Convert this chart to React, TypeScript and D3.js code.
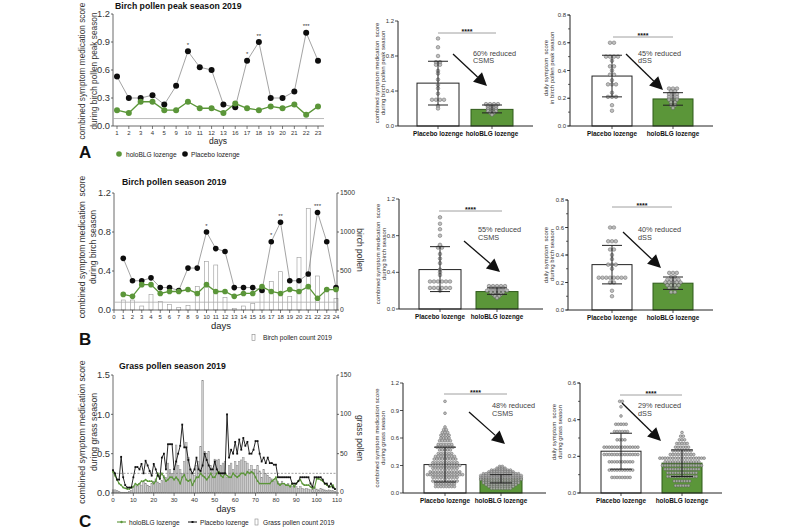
import React from 'react';
import * as d3 from 'd3';

const FONT = "'Liberation Sans', Arial, Helvetica, sans-serif";
const GREEN = '#5b9639';
const GREEN_DARK = '#2f5a1a';
const INK = '#222';
const GROUPS = ['Placebo lozenge', 'holoBLG lozenge'];

// ---------- Panel A: birch pollen peak season ----------
const daysA = ['1','2','3','4','5','9','10','11','12','13','16','17','18','19','20','21','22','23'];
const placeboA = [0.53,0.30,0.30,0.33,0.23,0.43,0.80,0.63,0.60,0.23,0.20,0.70,0.90,0.30,0.30,0.37,1.00,0.70];
const holoA = [0.17,0.14,0.26,0.26,0.17,0.17,0.26,0.19,0.19,0.14,0.24,0.19,0.17,0.21,0.19,0.23,0.12,0.21];
const starsA: Record<string,string> = { '10': '*', '17': '*', '18': '**', '22': '***' };

// ---------- Panel B: birch pollen season ----------
const daysB = [1,2,3,4,5,6,7,8,9,10,11,12,13,14,15,16,17,18,19,20,21,22,23,24];
const placeboB = [0.53,0.30,0.30,0.33,0.23,0.23,0.20,0.43,0.43,0.80,0.63,0.60,0.23,0.23,0.23,0.20,0.70,0.90,0.30,0.30,0.37,1.00,0.70,0.23];
const holoB = [0.16,0.14,0.26,0.26,0.17,0.19,0.19,0.21,0.17,0.26,0.19,0.19,0.14,0.17,0.17,0.24,0.19,0.17,0.21,0.19,0.24,0.12,0.21,0.21];
const birchB = [128,128,51,201,107,73,30,56,299,620,577,162,20,51,85,295,363,491,171,671,1303,436,278,150];
const starsB: Record<number,string> = { 10: '*', 17: '*', 18: '**', 22: '***' };

// ---------- Panel C: grass pollen season (days 0..109) ----------
const placeboC = [
  0.29,0.25,0.17,0.17,0.46,0.20,0.10,0.07,0.07,0.07,
  0.20,0.33,0.33,0.30,0.37,0.25,0.41,0.35,0.28,0.22,
  0.37,0.30,0.22,0.18,0.45,0.50,0.30,0.62,0.62,0.62,
  0.30,0.40,0.50,0.60,0.87,0.58,0.58,0.42,0.30,0.25,
  0.30,0.45,0.30,0.28,0.35,0.50,0.42,0.35,0.30,0.30,
  0.40,0.30,0.25,0.25,0.25,0.25,1.00,0.45,0.55,0.50,
  0.65,0.50,0.68,0.55,0.70,0.60,0.65,0.50,0.50,0.55,
  0.66,0.66,0.50,0.40,0.45,0.38,0.45,0.38,0.38,0.36,
  0.36,0.20,0.20,0.20,0.20,0.20,0.20,0.20,0.12,0.12,
  0.12,0.15,0.20,0.20,0.20,0.20,0.20,0.12,0.08,0.20,
  0.20,0.20,0.20,0.17,0.12,0.12,0.08,0.12,0.07,0.05
];
const holoC = [
  0.27,0.22,0.17,0.12,0.10,0.07,0.06,0.05,0.05,0.07,
  0.08,0.12,0.10,0.12,0.15,0.15,0.17,0.15,0.15,0.15,
  0.12,0.15,0.25,0.20,0.25,0.20,0.15,0.17,0.20,0.20,
  0.17,0.20,0.17,0.12,0.20,0.23,0.17,0.15,0.17,0.10,
  0.15,0.20,0.20,0.25,0.22,0.20,0.17,0.20,0.25,0.20,
  0.20,0.25,0.27,0.22,0.20,0.25,0.22,0.20,0.20,0.25,
  0.22,0.20,0.22,0.25,0.25,0.23,0.27,0.25,0.27,0.25,
  0.20,0.15,0.12,0.12,0.12,0.12,0.12,0.12,0.15,0.17,
  0.20,0.12,0.10,0.12,0.12,0.10,0.10,0.08,0.12,0.08,
  0.12,0.15,0.17,0.12,0.10,0.10,0.10,0.08,0.06,0.07,
  0.18,0.18,0.17,0.15,0.12,0.10,0.08,0.08,0.10,0.05
];
const grassC = [
  4,4,3,2,1,1,1,1,2,3,
  8,10,8,12,10,14,12,10,8,12,
  15,18,14,12,16,22,20,38,30,25,
  28,61,35,30,25,40,64,45,30,25,
  22,35,40,59,143,53,50,53,35,30,
  43,42,43,35,38,40,20,35,38,30,
  40,35,40,42,45,40,38,30,35,30,
  30,35,28,20,30,25,22,20,18,15,
  18,15,12,15,12,10,12,10,8,10,
  8,6,8,6,5,6,5,4,5,6,
  5,4,6,5,4,3,4,3,3,2
];

// ---------- Dot plots: [value, count] rows ----------
const aCsmsMean = [0.49, 0.19];
const aCsmsErr = [[0.24, 0.74], [0.15, 0.24]];
const aCsmsPlacebo = [[1.0,1],[0.9,1],[0.8,1],[0.73,2],[0.7,2],[0.63,1],[0.6,1],[0.53,1],[0.47,1],[0.43,1],[0.37,1],[0.3,4],[0.23,1],[0.2,1]];
const aCsmsHolo = [[0.25,4],[0.23,3],[0.21,3],[0.19,3],[0.17,3],[0.15,2],[0.13,1]];

const aDssMean = [0.36, 0.195];
const aDssErr = [[0.21, 0.51], [0.15, 0.24]];
const aDssPlacebo = [[0.6,2],[0.5,4],[0.47,1],[0.43,2],[0.4,1],[0.37,2],[0.33,1],[0.3,3],[0.24,1],[0.21,3],[0.15,1],[0.11,1]];
const aDssHolo = [[0.27,3],[0.25,2],[0.23,3],[0.21,3],[0.19,3],[0.17,2],[0.15,2],[0.13,1]];

const bCsmsMean = [0.43, 0.19];
const bCsmsErr = [[0.19, 0.68], [0.16, 0.23]];
const bCsmsPlacebo = [[1.0,1],[0.93,1],[0.87,1],[0.8,1],[0.7,1],[0.67,2],[0.6,1],[0.55,1],[0.5,1],[0.43,1],[0.4,1],[0.37,1],[0.3,6],[0.23,6],[0.2,1]];
const bCsmsHolo = [[0.25,5],[0.23,4],[0.2,6],[0.18,4],[0.16,3],[0.14,2],[0.12,1]];

const bDssMean = [0.33, 0.195];
const bDssErr = [[0.19, 0.47], [0.15, 0.24]];
const bDssPlacebo = [[0.6,2],[0.5,3],[0.44,2],[0.4,1],[0.37,1],[0.33,3],[0.3,1],[0.235,8],[0.2,2],[0.14,1],[0.1,1]];
const bDssHolo = [[0.27,3],[0.24,2],[0.22,4],[0.2,5],[0.18,4],[0.16,3],[0.13,2]];

const cCsmsMean = [0.31, 0.16];
const cCsmsErr = [[0.12, 0.5], [0.11, 0.2]];
const cCsmsPlacebo = [[1.0,1],[0.87,1],[0.72,1],[0.69,2],[0.66,3],[0.63,4],[0.6,4],[0.57,5],[0.53,6],[0.5,7],[0.47,5],[0.43,6],[0.4,8],[0.37,9],[0.33,10],[0.3,12],[0.27,10],[0.23,12],[0.2,14],[0.17,10],[0.13,10],[0.1,8],[0.07,8]];
const cCsmsHolo = [[0.29,2],[0.27,4],[0.25,8],[0.23,10],[0.21,14],[0.19,16],[0.17,16],[0.15,16],[0.13,14],[0.11,14],[0.09,12],[0.07,10],[0.05,8]];

const cDssMean = [0.228, 0.163];
const cDssErr = [[0.13, 0.326], [0.09, 0.235]];
const cDssPlacebo = [[0.5,2],[0.47,1],[0.42,1],[0.375,5],[0.335,6],[0.29,4],[0.25,14],[0.21,14],[0.17,10],[0.125,10],[0.085,8]];
const cDssHolo = [[0.33,1],[0.31,2],[0.29,3],[0.27,5],[0.25,6],[0.23,8],[0.21,10],[0.19,18],[0.17,14],[0.15,16],[0.13,14],[0.11,12],[0.09,12],[0.065,7],[0.04,6]];

// ---------- helpers ----------
function Arrow({ x1, y1, x2, y2, head = 13, half = 6.5 }: any) {
  const dx = x2 - x1, dy = y2 - y1, L = Math.hypot(dx, dy);
  const ux = dx / L, uy = dy / L;
  const bx = x2 - ux * head, by = y2 - uy * head;
  const px = -uy * half, py = ux * half;
  return (
    <g>
      <line x1={x1} y1={y1} x2={bx} y2={by} stroke="#111" strokeWidth={1.3} />
      <polygon points={`${x2},${y2} ${bx + px},${by + py} ${bx - px},${by - py}`} fill="#111" />
    </g>
  );
}

function RotLabel({ x, y, lines, size, gap, rot = -90, color = '#333' }: any) {
  return (
    <g>
      {lines.map((l: string, i: number) => (
        <text key={i} transform={`translate(${x + i * gap},${y}) rotate(${rot})`} textAnchor="middle"
          fontSize={size} fill={color} style={{ whiteSpace: 'pre' }}>{l}</text>
      ))}
    </g>
  );
}

function DotPlot(p: any) {
  const y = d3.scaleLinear([0, p.max], [p.y0, p.yTop]);
  const x = d3.scalePoint(GROUPS, p.centers);
  const dotRows = [p.placebo, p.holo];
  const majors = d3.range(0, p.max + 1e-9, p.major);
  const minors = p.minor ? d3.range(0, p.max + 1e-9, p.minor) : [];
  return (
    <g>
      {GROUPS.map((g, i) => (
        <rect key={g} x={x(g)! - p.barW / 2} y={y(p.mean[i])} width={p.barW} height={p.y0 - y(p.mean[i])}
          fill={i === 0 ? '#fff' : GREEN} stroke={i === 0 ? INK : GREEN_DARK} strokeWidth={1} />
      ))}
      {GROUPS.map((g, gi) => dotRows[gi].map(([v, n]: number[], ri: number) =>
        d3.range(n).map(k => (
          <circle key={`${gi}-${ri}-${k}`} cx={x(g)! + (k - (n - 1) / 2) * p.sp} cy={y(v)} r={p.r}
            fill="#b4b4b4" fillOpacity={0.85} stroke="#555" strokeWidth={0.45} />
        ))
      ))}
      {GROUPS.map((g, i) => {
        const cx = x(g)!;
        const [lo, hi] = p.err[i];
        return (
          <g key={g} stroke={INK} strokeWidth={1}>
            <line x1={cx} x2={cx} y1={y(lo)} y2={y(hi)} />
            <line x1={cx - p.capW / 2} x2={cx + p.capW / 2} y1={y(lo)} y2={y(lo)} />
            <line x1={cx - p.capW / 2} x2={cx + p.capW / 2} y1={y(hi)} y2={y(hi)} />
          </g>
        );
      })}
      <line x1={p.ax} x2={p.ax} y1={p.y0} y2={p.yTop} stroke={INK} strokeWidth={1} />
      <line x1={p.ax} x2={p.xEnd} y1={p.y0} y2={p.y0} stroke={INK} strokeWidth={1} />
      {minors.map(t => <line key={'m' + t} x1={p.ax - 2} x2={p.ax} y1={y(t)} y2={y(t)} stroke={INK} strokeWidth={0.7} />)}
      {majors.map(t => (
        <g key={t}>
          <line x1={p.ax - 3} x2={p.ax} y1={y(t)} y2={y(t)} stroke={INK} strokeWidth={0.8} />
          <text x={p.ax - 4} y={y(t)} dy="0.35em" textAnchor="end" fontSize={6} fill="#333">{t.toFixed(1)}</text>
        </g>
      ))}
      {GROUPS.map(g => (
        <g key={g}>
          <line x1={x(g)} x2={x(g)} y1={p.y0} y2={p.y0 + 3} stroke={INK} strokeWidth={0.8} />
          <text x={x(g)} y={p.y0 + 9.5} textAnchor="middle" fontSize={6.4} fontWeight="bold" fill="#111">{g}</text>
        </g>
      ))}
      <line x1={p.sig[0]} x2={p.sig[1]} y1={p.sig[2]} y2={p.sig[2]} stroke="#888" strokeWidth={0.8} />
      <text x={(p.sig[0] + p.sig[1]) / 2} y={p.sig[2] + 1} textAnchor="middle" fontSize={7} fontWeight="bold" fill="#111">****</text>
      {p.note.map((l: string, i: number) => (
        <text key={i} x={p.noteX} y={p.noteY + i * 7.8} fontSize={7.3} fill="#444">{l}</text>
      ))}
      <Arrow x1={p.arrow[0]} y1={p.arrow[1]} x2={p.arrow[2]} y2={p.arrow[3]} />
      <RotLabel x={p.labX} y={p.labY} lines={p.lab} size={6} gap={5.6} />
    </g>
  );
}

function PanelA() {
  const x = d3.scalePoint(daysA, [117, 318]);
  const y = d3.scaleLinear([0, 1.2], [126, 14]);
  const line = d3.line<number>().x((_, i) => x(daysA[i])!).y(d => y(d));
  return (
    <g>
      <text x={115} y={9} fontSize={8.7} fontWeight="bold" fill="#111">Birch pollen peak season 2019</text>
      <line x1={113} x2={113} y1={y(0)} y2={y(1.2)} stroke="#444" strokeWidth={0.8} />
      {[0, 0.3, 0.6, 0.9, 1.2].map(t => (
        <g key={t}>
          <line x1={111} x2={113} y1={y(t)} y2={y(t)} stroke="#444" strokeWidth={0.8} />
          <text x={110} y={y(t)} dy="0.35em" textAnchor="end" fontSize={9.3} fill="#333">{t.toFixed(1)}</text>
        </g>
      ))}
      <line x1={113} x2={324} y1={y(0)} y2={y(0)} stroke="#444" strokeWidth={0.8} />
      {daysA.map(d => (
        <g key={d}>
          <line x1={x(d)} x2={x(d)} y1={y(0)} y2={y(0) + 3} stroke="#444" strokeWidth={0.7} />
          <text x={x(d)} y={135} fontSize={6} textAnchor="middle" fill="#333">{d}</text>
        </g>
      ))}
      <line x1={113} x2={324} y1={y(0.08)} y2={y(0.08)} stroke="#aaa" strokeWidth={0.8} />
      <path d={line(placeboA)!} fill="none" stroke="#8c8c8c" strokeWidth={0.8} />
      <path d={line(holoA)!} fill="none" stroke={GREEN} strokeWidth={1.3} />
      {placeboA.map((v, i) => <circle key={'p' + i} cx={x(daysA[i])} cy={y(v)} r={3} fill="#0d0d0d" />)}
      {holoA.map((v, i) => <circle key={'h' + i} cx={x(daysA[i])} cy={y(v)} r={3} fill={GREEN} />)}
      {daysA.map((d, i) => starsA[d] ? (
        <text key={'s' + d} x={x(d)} y={y(placeboA[i]) - 4.5} fontSize={6} textAnchor="middle" fill="#333">{starsA[d]}</text>
      ) : null)}
      <text x={218} y={144} fontSize={8.5} textAnchor="middle" fill="#222">days</text>
      <RotLabel x={85} y={71} lines={['combined symptom medication score', 'during birch pollen peak season']} size={8.3} gap={12} />
      <text x={79} y={158} fontSize={17} fontWeight="bold" fill="#111">A</text>
      <circle cx={119} cy={154} r={2.8} fill={GREEN} />
      <text x={126} y={156.5} fontSize={6.6} fill="#222">holoBLG lozenge</text>
      <circle cx={185} cy={154} r={2.8} fill="#0d0d0d" />
      <text x={191} y={156.5} fontSize={6.6} fill="#222">Placebo lozenge</text>
    </g>
  );
}

function PanelB() {
  const x = d3.scaleLinear([0, 24], [114, 336]);
  const y = d3.scaleLinear([0, 1.2], [310, 193]);
  const y2 = d3.scaleLinear([0, 1500], [310, 193]);
  const line = d3.line<number>().x((_, i) => x(daysB[i])).y(d => y(d));
  return (
    <g>
      <text x={122} y={185} fontSize={8.7} fontWeight="bold" fill="#111">Birch pollen season 2019</text>
      {birchB.map((v, i) => (
        <rect key={'b' + i} x={x(daysB[i]) - 2} y={y2(v)} width={4} height={y2(0) - y2(v)} fill="#fff" stroke="#9a9a9a" strokeWidth={0.6} />
      ))}
      <line x1={114} x2={114} y1={y(0)} y2={y(1.2)} stroke="#444" strokeWidth={0.8} />
      {[0, 0.4, 0.8, 1.2].map(t => (
        <g key={t}>
          <line x1={112} x2={114} y1={y(t)} y2={y(t)} stroke="#444" strokeWidth={0.8} />
          <text x={111} y={y(t)} dy="0.35em" textAnchor="end" fontSize={9.3} fill="#333">{t.toFixed(1)}</text>
        </g>
      ))}
      <line x1={337} x2={337} y1={y2(0)} y2={y2(1500)} stroke="#444" strokeWidth={0.8} />
      {[0, 500, 1000, 1500].map(t => (
        <g key={t}>
          <line x1={337} x2={339} y1={y2(t)} y2={y2(t)} stroke="#444" strokeWidth={0.8} />
          <text x={340} y={y2(t)} dy="0.3em" fontSize={6.8} fill="#333">{t}</text>
        </g>
      ))}
      <line x1={114} x2={337} y1={y(0)} y2={y(0)} stroke="#444" strokeWidth={0.8} />
      {[0, ...daysB].map(d => (
        <g key={d}>
          <line x1={x(d)} x2={x(d)} y1={y(0)} y2={y(0) + 3} stroke="#444" strokeWidth={0.7} />
          <text x={x(d)} y={318.5} fontSize={6} textAnchor="middle" fill="#333">{d}</text>
        </g>
      ))}
      <line x1={114} x2={337} y1={y2(100)} y2={y2(100)} stroke="#aaa" strokeWidth={0.8} />
      <path d={line(placeboB)!} fill="none" stroke="#8c8c8c" strokeWidth={0.8} />
      <path d={line(holoB)!} fill="none" stroke={GREEN} strokeWidth={1.3} />
      {placeboB.map((v, i) => <circle key={'p' + i} cx={x(daysB[i])} cy={y(v)} r={2.8} fill="#0d0d0d" />)}
      {holoB.map((v, i) => <circle key={'h' + i} cx={x(daysB[i])} cy={y(v)} r={2.8} fill={GREEN} />)}
      {daysB.map((d, i) => starsB[d] ? (
        <text key={'s' + d} x={x(d)} y={y(placeboB[i]) - 4.5} fontSize={6} textAnchor="middle" fill="#333">{starsB[d]}</text>
      ) : null)}
      <text x={221} y={329} fontSize={9.5} textAnchor="middle" fill="#222">days</text>
      <RotLabel x={85} y={247} lines={['combined symptom medication  score', 'during birch season']} size={8.5} gap={11} />
      <RotLabel x={357} y={250} lines={['birch pollen']} size={8.5} gap={0} rot={90} />
      <text x={79} y={345} fontSize={17} fontWeight="bold" fill="#111">B</text>
      <rect x={252} y={334.5} width={3} height={6} fill="#fff" stroke="#888" strokeWidth={0.6} />
      <text x={263} y={340} fontSize={6.6} fill="#222">Birch pollen count 2019</text>
    </g>
  );
}

function PanelC() {
  const x = d3.scaleLinear([0, 110], [113, 337]);
  const y = d3.scaleLinear([0, 1.5], [493, 375]);
  const y2 = d3.scaleLinear([0, 150], [493, 375]);
  const line = d3.line<number>().x((_, i) => x(i)).y(d => y(d));
  return (
    <g>
      <text x={119} y={369} fontSize={8.7} fontWeight="bold" fill="#111">Grass pollen season 2019</text>
      {grassC.map((v, i) => (
        <rect key={'g' + i} x={x(i) - 0.8} y={y2(v)} width={1.6} height={y2(0) - y2(v)} fill="#d0d0d0" stroke="#8a8a8a" strokeWidth={0.5} />
      ))}
      <line x1={113} x2={113} y1={y(0)} y2={y(1.5)} stroke="#444" strokeWidth={0.8} />
      {[0, 0.5, 1.0, 1.5].map(t => (
        <g key={t}>
          <line x1={111} x2={113} y1={y(t)} y2={y(t)} stroke="#444" strokeWidth={0.8} />
          <text x={110} y={y(t)} dy="0.35em" textAnchor="end" fontSize={9.3} fill="#333">{t.toFixed(1)}</text>
        </g>
      ))}
      <line x1={337} x2={337} y1={y2(0)} y2={y2(150)} stroke="#444" strokeWidth={0.8} />
      {[0, 50, 100, 150].map(t => (
        <g key={t}>
          <line x1={337} x2={339} y1={y2(t)} y2={y2(t)} stroke="#444" strokeWidth={0.8} />
          <text x={340} y={y2(t)} dy={t === 0 ? '0.1em' : '0.3em'} fontSize={6.8} fill="#333">{t}</text>
        </g>
      ))}
      <line x1={113} x2={337} y1={y(0)} y2={y(0)} stroke="#444" strokeWidth={0.8} />
      {d3.range(0, 111, 10).map(d => (
        <g key={d}>
          <line x1={x(d)} x2={x(d)} y1={y(0)} y2={y(0) + 3} stroke="#444" strokeWidth={0.7} />
          <text x={x(d)} y={501.5} fontSize={6.2} textAnchor="middle" fill="#333">{d}</text>
        </g>
      ))}
      <line x1={113} x2={337} y1={y2(25)} y2={y2(25)} stroke="#777" strokeWidth={0.7} strokeDasharray="2,1.5" />
      <path d={line(holoC)!} fill="none" stroke={GREEN} strokeWidth={1.1} />
      {holoC.map((v, i) => <circle key={'h' + i} cx={x(i)} cy={y(v)} r={0.9} fill={GREEN} />)}
      <path d={line(placeboC)!} fill="none" stroke="#111" strokeWidth={0.9} />
      {placeboC.map((v, i) => <rect key={'p' + i} x={x(i) - 0.9} y={y(v) - 0.9} width={1.8} height={1.8} fill="#111" />)}
      <text x={226} y={512} fontSize={9} textAnchor="middle" fill="#222">days</text>
      <RotLabel x={85} y={432} lines={['combined symptom medication score', 'during grass season']} size={8.7} gap={11.5} />
      <RotLabel x={357} y={438} lines={['grass pollen']} size={8.5} gap={0} rot={90} />
      <text x={79} y={527} fontSize={17} fontWeight="bold" fill="#111">C</text>
      <line x1={117} x2={126} y1={522} y2={522} stroke={GREEN} strokeWidth={1.1} />
      <circle cx={121.5} cy={522} r={1.2} fill={GREEN} />
      <text x={129} y={524.5} fontSize={6.6} fill="#222">holoBLG lozenge</text>
      <line x1={188} x2={197} y1={522} y2={522} stroke="#111" strokeWidth={1} />
      <rect x={191.5} y={521} width={2} height={2} fill="#111" />
      <text x={200} y={524.5} fontSize={6.6} fill="#222">Placebo lozenge</text>
      <rect x={255} y={519} width={3} height={6} fill="#fff" stroke="#888" strokeWidth={0.6} />
      <text x={263} y={524.5} fontSize={6.6} fill="#222">Grass pollen count 2019</text>
    </g>
  );
}

export default function App() {
  return (
    <svg width={800} height={530} style={{ position: 'absolute', left: 0, top: 0 }} fontFamily={FONT}>
      <rect width={800} height={530} fill="#fff" />
      <PanelA />
      <PanelB />
      <PanelC />
      <DotPlot ax={398} xEnd={533} y0={126} yTop={21} max={1.2} major={0.4} centers={[438, 492]} barW={42}
        mean={aCsmsMean} err={aCsmsErr} placebo={aCsmsPlacebo} holo={aCsmsHolo} capW={20} r={1.8} sp={4}
        sig={[438, 496, 33]} note={['60% reduced', 'CSMS']} noteX={473} noteY={55.5} arrow={[453, 54, 487, 86]}
        lab={['combined symptom medication  score', 'during birch pollen peak season']} labX={379} labY={73} />
      <DotPlot ax={570} xEnd={713} y0={126} yTop={15} max={0.8} major={0.2} minor={0.1} centers={[612, 673]} barW={40}
        mean={aDssMean} err={aDssErr} placebo={aDssPlacebo} holo={aDssHolo} capW={20} r={1.8} sp={4}
        sig={[613, 673, 37]} note={['45% reduced', 'dSS']} noteX={638} noteY={55.5} arrow={[626, 54, 663, 90]}
        lab={['daily symptom  score', 'in birch pollen peak season']} labX={548} labY={68} />
      <DotPlot ax={399} xEnd={543} y0={309} yTop={199} max={1.2} major={0.4} centers={[440, 497]} barW={42}
        mean={bCsmsMean} err={bCsmsErr} placebo={bCsmsPlacebo} holo={bCsmsHolo} capW={20} r={1.8} sp={4}
        sig={[439, 502, 211]} note={['55% reduced', 'CSMS']} noteX={478} noteY={232} arrow={[464, 241, 500, 272]}
        lab={['combined symptom medication  score', 'during birch season']} labX={380} labY={254} />
      <DotPlot ax={568} xEnd={713} y0={310} yTop={200} max={0.8} major={0.2} minor={0.1} centers={[612, 673]} barW={40}
        mean={bDssMean} err={bDssErr} placebo={bDssPlacebo} holo={bDssHolo} capW={20} r={1.8} sp={3.8}
        sig={[612, 672, 207]} note={['40% reduced', 'dSS']} noteX={638} noteY={232} arrow={[623, 232, 661, 268]}
        lab={['daily symptom  score', 'during birch season']} labX={548} labY={255} />
      <DotPlot ax={403} xEnd={546} y0={493} yTop={383} max={1.2} major={0.3} centers={[445, 501]} barW={42}
        mean={cCsmsMean} err={cCsmsErr} placebo={cCsmsPlacebo} holo={cCsmsHolo} capW={22} r={1.4} sp={2.7}
        sig={[444, 507, 394]} note={['48% reduced', 'CSMS']} noteX={492} noteY={408} arrow={[469, 412, 505, 444]}
        lab={['combined symptom medication score', 'during grass season']} labX={379} labY={438} />
      <DotPlot ax={580} xEnd={722} y0={493} yTop={383} max={0.6} major={0.2} minor={0.1} centers={[621, 682]} barW={40}
        mean={cDssMean} err={cDssErr} placebo={cDssPlacebo} holo={cDssHolo} capW={22} r={1.4} sp={2.6}
        sig={[620, 682, 395]} note={['29% reduced', 'dSS']} noteX={638} noteY={408} arrow={[622, 403, 661, 441]}
        lab={['daily symptom  score', 'during grass season']} labX={556} labY={432} />
    </svg>
  );
}
